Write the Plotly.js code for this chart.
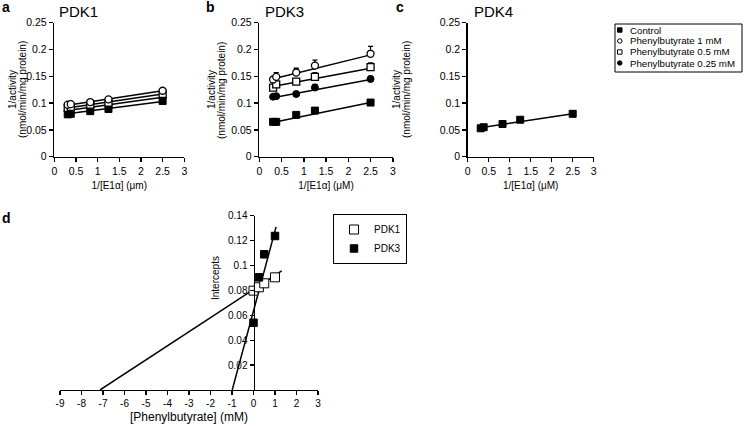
<!DOCTYPE html>
<html><head><meta charset="utf-8">
<script src="https://cdn.plot.ly/plotly-3.0.1.min.js"></script>
<style>html,body{margin:0;padding:0;background:#fff}#chart{width:746px;height:426px}</style>
</head><body><div id="chart"></div>
<script>
// ---- data ----
const xE1a = [0.31, 0.38, 0.83, 1.25, 2.5];
const fitX = [0.3, 2.5];
const seriesNames = ['Control', 'Phenylbutyrate 1 mM', 'Phenylbutyrate 0.5 mM', 'Phenylbutyrate 0.25 mM'];

// Panel a: PDK1
const a_ctrl  = [0.079, 0.080, 0.085, 0.089, 0.104];
const a_pb1   = [0.097, 0.098, 0.102, 0.107, 0.123];
const a_pb05  = [0.091, 0.093, 0.097, 0.101, 0.117];
const a_pb025 = [0.085, 0.087, 0.092, 0.096, 0.110];
const a_fitCtrl = [0.080, 0.103], a_fitPb1 = [0.096, 0.123], a_fitPb05 = [0.091, 0.117], a_fitPb025 = [0.086, 0.111];
const a_errPb1 = [0, 0.003, 0.003, 0.003, 0.003];

// Panel b: PDK3
const b_ctrl  = [0.065, 0.065, 0.078, 0.086, 0.101];
const b_pb1   = [0.144, 0.149, 0.157, 0.170, 0.192];
const b_pb05  = [0.129, 0.135, 0.140, 0.149, 0.167];
const b_pb025 = [0.112, 0.113, 0.117, 0.129, 0.145];
const b_fitCtrl = [0.064, 0.101], b_fitPb1 = [0.145, 0.190], b_fitPb05 = [0.131, 0.165], b_fitPb025 = [0.110, 0.144];
const b_errCtrl = [0, 0, 0, 0.002, 0.003];
const b_errPb1 = [0, 0.008, 0.008, 0.010, 0.014];
const b_errPb05 = [0, 0.004, 0.004, 0.008, 0.008];
const b_errPb025 = [0, 0.003, 0, 0.006, 0.005];

// Panel c: PDK4
const c_ctrl = [0.053, 0.055, 0.061, 0.069, 0.080];
const c_fitCtrl = [0.054, 0.080];

// Panel d: intercepts vs [Phenylbutyrate]
const dConc = [0, 0.25, 0.5, 1];
const d_pdk1 = [0.0798, 0.0825, 0.0857, 0.0905];
const d_pdk3 = [0.054, 0.0905, 0.109, 0.1237];
const d_fitPdk1X = [-7.14, 1.31], d_fitPdk1Y = [0, 0.0956];
const d_fitPdk3X = [-0.99, 1.05], d_fitPdk3Y = [0, 0.131];
const dTickVals = [-9, -8, -7, -6, -5, -4, -3, -2, -1, 0, 1, 2, 3];
const dTickText = ['-9', '-8', '-7', '-6', '-5', '-4', '-3', '-2', '-1', '0', '1', '2', '3'];
const dYTickVals = [0.02, 0.04, 0.06, 0.08, 0.1, 0.12, 0.14];
const dYTickText = ['0.02', '0.04', '0.06', '0.08', '0.1', '0.12', '0.14'];

// ---- styles ----
const FONT = 'Liberation Sans, Arial, sans-serif';
const styles = {
  ctrl:  {symbol: 'square', color: '#000', line: {color: '#000', width: 1}},
  pb1:   {symbol: 'circle', color: '#fff', line: {color: '#000', width: 1.3}},
  pb05:  {symbol: 'square', color: '#fff', line: {color: '#000', width: 1.3}},
  pb025: {symbol: 'circle', color: '#000', line: {color: '#000', width: 1}}
};
const traces = [];
function fitLine(ax, xs, ys) {
  traces.push({x: xs, y: ys, xaxis: 'x' + ax, yaxis: 'y' + ax, mode: 'lines',
    line: {color: '#000', width: 1.5}, showlegend: false, hoverinfo: 'skip'});
}
function pts(ax, xs, ys, st, name, err, size) {
  const t = {x: xs, y: ys, xaxis: 'x' + ax, yaxis: 'y' + ax, mode: 'markers', name: name,
    marker: Object.assign({size: size || 7}, st), showlegend: false};
  if (err) t.error_y = {type: 'data', symmetric: false, array: err, arrayminus: err.map(() => 0),
    color: '#000', thickness: 1.3, width: 2.5};
  traces.push(t);
}
// panel a
fitLine('', fitX, a_fitCtrl); fitLine('', fitX, a_fitPb1); fitLine('', fitX, a_fitPb05); fitLine('', fitX, a_fitPb025);
pts('', xE1a, a_ctrl, styles.ctrl, seriesNames[0]);
pts('', xE1a, a_pb025, styles.pb025, seriesNames[3]);
pts('', xE1a, a_pb05, styles.pb05, seriesNames[2]);
pts('', xE1a, a_pb1, styles.pb1, seriesNames[1], a_errPb1);
// panel b
fitLine('2', fitX, b_fitCtrl); fitLine('2', fitX, b_fitPb1); fitLine('2', fitX, b_fitPb05); fitLine('2', fitX, b_fitPb025);
pts('2', xE1a, b_ctrl, styles.ctrl, seriesNames[0], b_errCtrl);
pts('2', xE1a, b_pb025, styles.pb025, seriesNames[3], b_errPb025);
pts('2', xE1a, b_pb05, styles.pb05, seriesNames[2], b_errPb05);
pts('2', xE1a, b_pb1, styles.pb1, seriesNames[1], b_errPb1);
// panel c
fitLine('3', fitX, c_fitCtrl);
pts('3', xE1a, c_ctrl, styles.ctrl, seriesNames[0]);
// panel d
fitLine('4', d_fitPdk1X, d_fitPdk1Y);
fitLine('4', d_fitPdk3X, d_fitPdk3Y);
traces.push({x: dConc, y: d_pdk1, xaxis: 'x4', yaxis: 'y4', mode: 'markers', name: 'PDK1',
  marker: {symbol: 'square', size: 9, color: '#fff', line: {color: '#000', width: 1}}});
traces.push({x: dConc, y: d_pdk3, xaxis: 'x4', yaxis: 'y4', mode: 'markers', name: 'PDK3',
  marker: {symbol: 'square', size: 7.5, color: '#000', line: {color: '#000', width: 1}}});

// ---- axes ----
const W = 746, H = 426;
const px = v => v / W, py = v => 1 - v / H;
function xax(dom, title, anchor) {
  return {domain: dom, anchor: anchor, range: [0, 3], dtick: 0.5, tick0: 0, showgrid: false, zeroline: false,
    showline: true, linecolor: '#000', linewidth: 1.5, ticks: 'outside', ticklen: 4, tickwidth: 1.5, tickcolor: '#000',
    tickfont: {size: 10.5, family: FONT, color: '#000'},
    title: {text: title, font: {size: 10, family: FONT, color: '#000'}, standoff: 6}};
}
function yax(anchor) {
  return {domain: [py(156.7), py(22.7)], anchor: anchor, range: [0, 0.25], dtick: 0.05, tick0: 0, showgrid: false, zeroline: false,
    showline: true, linecolor: '#000', linewidth: 1.5, ticks: 'outside', ticklen: 4, tickwidth: 1.5, tickcolor: '#000',
    tickfont: {size: 10.5, family: FONT, color: '#000'}};
}

const ann = [];
function txt(x, y, text, size, bold, extra) {
  ann.push(Object.assign({xref: 'paper', yref: 'paper', x: px(x), y: py(y), text: bold ? '<b>' + text + '</b>' : text,
    xanchor: 'center', yanchor: 'middle', showarrow: false, font: {size: size, family: FONT, color: '#000'}}, extra || {}));
}
txt(6, 7, 'a', 14, true); txt(210, 7, 'b', 14, true); txt(400, 7, 'c', 14, true); txt(7, 218, 'd', 14, true);
txt(78, 12, 'PDK1', 15); txt(284, 12, 'PDK3', 15); txt(493, 12, 'PDK4', 15);
// y-axis titles of panels a-c (two lines each)
[13, 212, 397].forEach(x0 => {
  txt(x0, 90, '1/activity', 10, false, {textangle: -90});
  txt(x0 + 10, 90, '(nmol/min/mg protein)', 10, false, {textangle: -90});
});
txt(215, 278, 'Intercepts', 10, false, {textangle: -90});

// manual compact legend (top right)
const shapes = [{type: 'rect', xref: 'paper', yref: 'paper', x0: px(615), x1: px(742), y0: py(72), y1: py(24),
  line: {color: '#000', width: 1}, fillcolor: 'rgba(0,0,0,0)'}];
const legY = [30, 41, 52, 63];
const legSym = [
  {type: 'rect', fill: '#000'}, {type: 'circle', fill: '#fff'}, {type: 'rect', fill: '#fff'}, {type: 'circle', fill: '#000'}
];
legY.forEach((yy, i) => {
  const s = legSym[i];
  shapes.push({type: s.type, xref: 'paper', yref: 'paper', x0: px(617.5), x1: px(622), y0: py(yy + 2.2), y1: py(yy - 2.2),
    line: {color: '#000', width: 1}, fillcolor: s.fill});
  txt(628, yy, seriesNames[i], 9.7, false, {xanchor: 'left'});
});

const layout = {
  width: W, height: H, margin: {l: 0, r: 0, t: 0, b: 0}, paper_bgcolor: '#fff', plot_bgcolor: 'rgba(0,0,0,0)',
  font: {family: FONT, color: '#000'},
  xaxis: xax([px(54.3), px(184.3)], '1/[E1α] (μm)', 'y'),
  yaxis: yax('x'),
  xaxis2: xax([px(259.3), px(392.8)], '1/[E1α] (μM)', 'y2'),
  yaxis2: yax('x2'),
  xaxis3: xax([px(467.7), px(593.7)], '1/[E1α] (μM)', 'y3'),
  yaxis3: yax('x3'),
  xaxis4: {domain: [px(60), px(318)], anchor: 'y4', range: [-9, 3], tickvals: dTickVals, ticktext: dTickText,
    showgrid: false, zeroline: false,
    showline: true, linecolor: '#000', linewidth: 1.3, ticks: 'outside', ticklen: 4, tickwidth: 1.3, tickcolor: '#000',
    tickfont: {size: 10, family: FONT, color: '#000'},
    title: {text: '[Phenylbutyrate] (mM)', font: {size: 12, family: FONT, color: '#000'}, standoff: 4}},
  yaxis4: {domain: [py(390), py(215.7)], anchor: 'free', position: px(253.5), range: [0, 0.14],
    tickvals: dYTickVals, ticktext: dYTickText,
    showgrid: false, zeroline: false, showline: true, linecolor: '#000', linewidth: 1.3, ticks: 'outside', ticklen: 4,
    tickwidth: 1.3, tickcolor: '#000', tickfont: {size: 10, family: FONT, color: '#000'}},
  showlegend: true,
  legend: {x: px(333), y: py(214), xanchor: 'left', yanchor: 'top', bordercolor: '#000', borderwidth: 1,
    bgcolor: '#fff', font: {size: 10, family: FONT, color: '#000'}, itemwidth: 30, tracegroupgap: 0},
  annotations: ann,
  shapes: shapes
};
Plotly.newPlot('chart', traces, layout, {displayModeBar: false, staticPlot: true});
</script></body></html>
